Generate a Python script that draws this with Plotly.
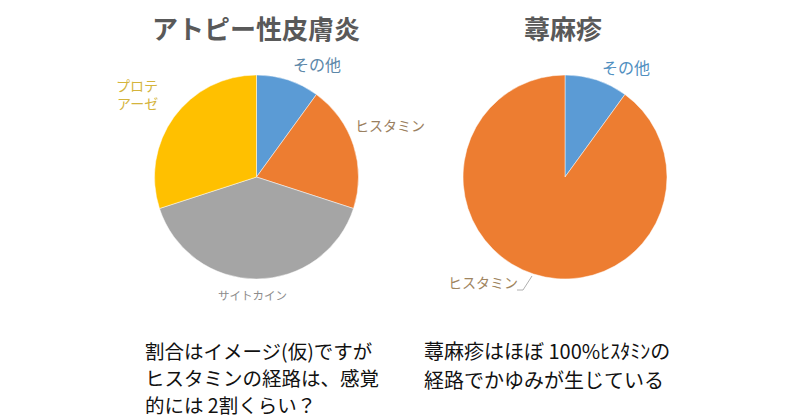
import plotly.graph_objects as go

W, H = 800, 419

# Data
atopy_labels = ["その他", "ヒスタミン", "サイトカイン", "プロテアーゼ"]
atopy_values = [10, 20, 40, 30]
atopy_colors = ["#5b9bd5", "#ed7d31", "#a5a5a5", "#ffc000"]

urticaria_labels = ["その他", "ヒスタミン"]
urticaria_values = [10, 90]
urticaria_colors = ["#5b9bd5", "#ed7d31"]

titles = ["アトピー性皮膚炎", "蕁麻疹"]
note_left = ["割合はイメージ(仮)ですが", "ヒスタミンの経路は、感覚", "的には 2割くらい？"]
note_right = ["蕁麻疹はほぼ 100%ﾋｽﾀﾐﾝの", "経路でかゆみが生じている"]

JP = "Noto Sans CJK JP"


def px(x):
    return x / W


def py(y):
    return 1 - y / H


def dom(cx, cy, r):
    return dict(x=[px(cx - r), px(cx + r)], y=[py(cy + r), py(cy - r)])


fig = go.Figure()
fig.add_trace(go.Pie(
    labels=atopy_labels, values=atopy_values, sort=False, direction="clockwise",
    rotation=0, textinfo="none", hoverinfo="label+percent",
    marker=dict(colors=atopy_colors, line=dict(color="rgba(255,255,255,0.6)", width=0.8)),
    domain=dom(256.5, 177, 102), showlegend=False,
))
fig.add_trace(go.Pie(
    labels=urticaria_labels, values=urticaria_values, sort=False, direction="clockwise",
    rotation=0, textinfo="none", hoverinfo="label+percent",
    marker=dict(colors=urticaria_colors, line=dict(color="rgba(255,255,255,0.6)", width=0.8)),
    domain=dom(565, 177, 102), showlegend=False,
))

ann = []


def label(text, x, y, size, color, bold=False, xanchor="center", yanchor="middle", align="center"):
    ann.append(dict(
        text=f"<b>{text}</b>" if bold else text, x=px(x), y=py(y), xref="paper", yref="paper",
        xanchor=xanchor, yanchor=yanchor, align=align, showarrow=False,
        font=dict(family=JP, size=size, color=color),
    ))


label(titles[0], 256, 27, 26, "#595959", bold=True)
label(titles[1], 563, 27, 26, "#595959", bold=True)

label(atopy_labels[0], 317, 64, 16, "#5b87a8")
label(atopy_labels[1], 390, 125, 14, "#9a8060")
label(atopy_labels[2], 253, 295, 11.5, "#8c8c8c")
label("プロテ", 137, 85, 14, "#d4b43c")
label("アーゼ", 137, 103, 14, "#d4b43c")

label(urticaria_labels[0], 626, 67, 16, "#4f8fc0")
label(urticaria_labels[1], 483, 282, 14, "#a08560")

for i, line in enumerate(note_left):
    label(line, 143, [350, 377, 404][i], 19.5, "#111111", xanchor="left", align="left")
for i, line in enumerate(note_right):
    label(line, 422, [350, 379][i], 20, "#111111", xanchor="left", align="left")

fig.update_layout(
    width=W, height=H, margin=dict(l=0, r=0, t=0, b=0),
    paper_bgcolor="white", plot_bgcolor="white",
    annotations=ann,
    shapes=[dict(type="path", xref="paper", yref="paper",
                 path=f"M {px(517)} {py(290)} L {px(523)} {py(290)} L {px(532)} {py(276)}",
                 line=dict(color="#b0b0b0", width=1))],
)

fig.write_html("out.html")
